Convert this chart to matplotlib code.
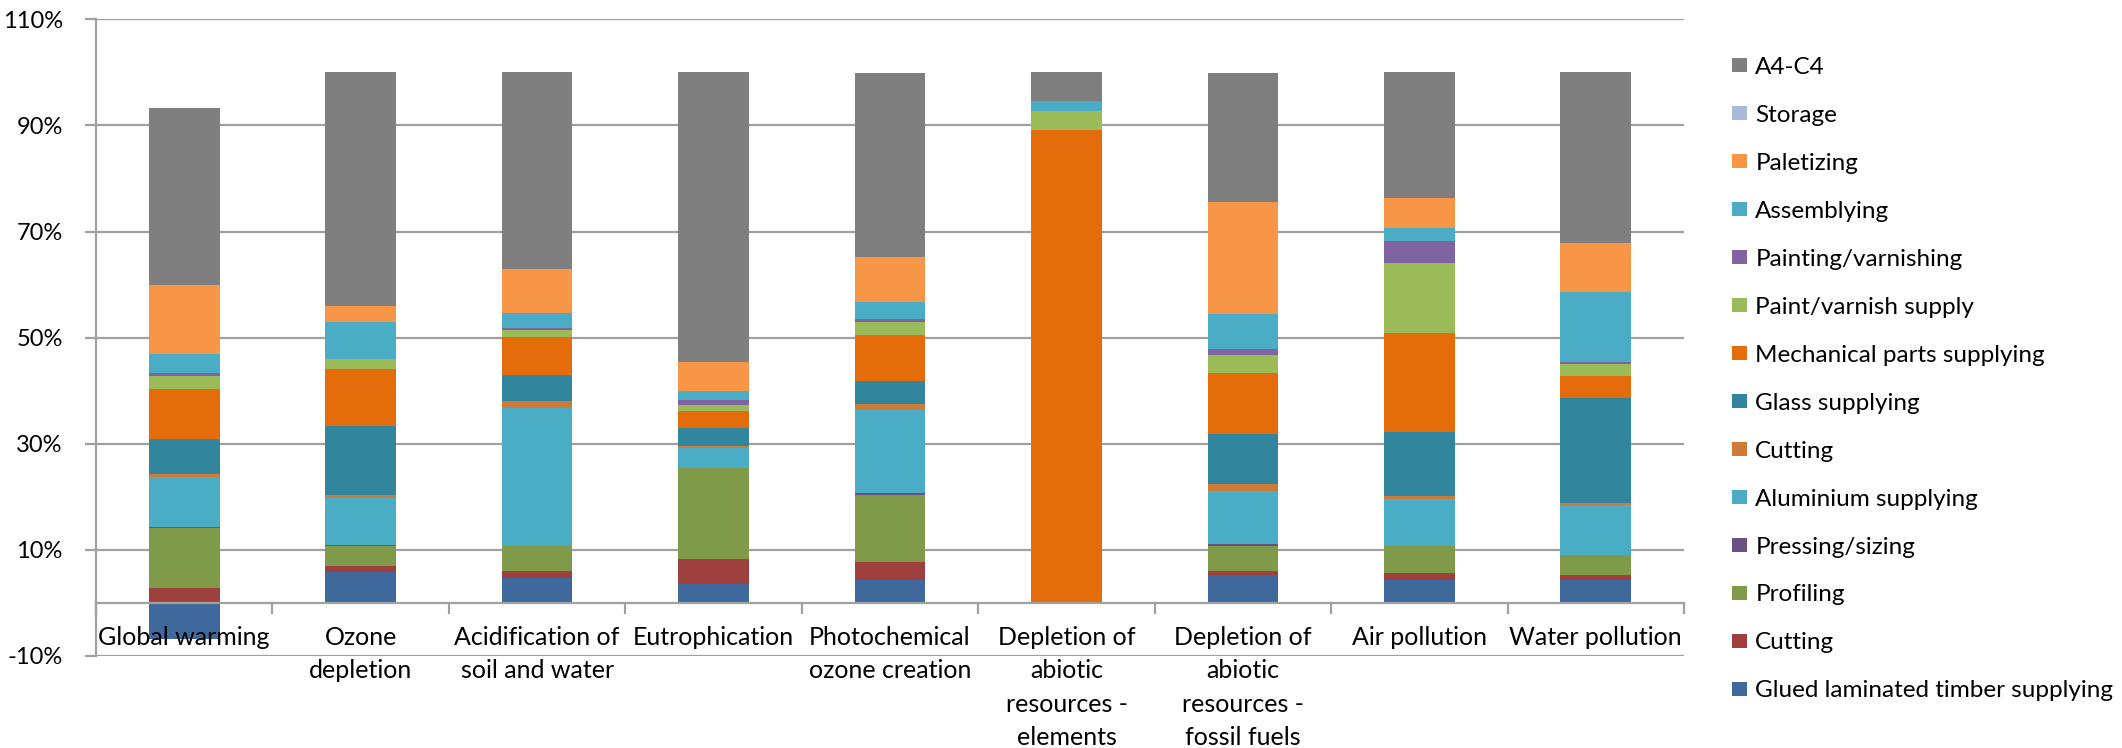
import matplotlib

matplotlib.use("Agg")
import matplotlib.pyplot as plt
import numpy as np
from matplotlib.patches import Patch

plt.rcParams["font.family"] = ["Lato", "DejaVu Sans"]

categories = [
    "Global warming",
    "Ozone\ndepletion",
    "Acidification of\nsoil and water",
    "Eutrophication",
    "Photochemical\nozone creation",
    "Depletion of\nabiotic\nresources -\nelements",
    "Depletion of\nabiotic\nresources -\nfossil fuels",
    "Air pollution",
    "Water pollution",
]

# stages from the bottom of each bar upwards, shares in %
glued_timber = [-6.8, 5.9, 4.7, 3.5, 4.4, 0.0, 5.2, 4.3, 4.4]
cutting_timber = [2.8, 1.0, 1.3, 4.8, 3.4, 0.0, 0.9, 1.3, 0.85]
profiling = [11.3, 3.8, 4.7, 17.1, 12.6, 0.0, 4.7, 5.1, 3.7]
pressing = [0.25, 0.15, 0.1, 0.1, 0.4, 0.0, 0.4, 0.1, 0.15]
aluminium = [9.3, 9.1, 26.0, 3.7, 15.8, 0.0, 9.9, 8.8, 9.3]
cutting_alu = [0.7, 0.35, 1.3, 0.4, 0.85, 0.0, 1.3, 0.6, 0.35]
glass = [6.6, 13.1, 4.8, 3.4, 4.3, 0.0, 9.5, 12.0, 19.9]
mechanical = [9.3, 10.6, 7.2, 3.2, 8.8, 89.1, 11.5, 18.7, 4.2]
paint_supply = [2.6, 1.9, 1.4, 1.2, 2.4, 3.7, 3.3, 13.1, 2.2]
painting = [0.5, 0.1, 0.25, 0.9, 0.5, 0.0, 1.2, 4.2, 0.4]
assembling = [3.6, 7.0, 2.95, 1.7, 3.2, 1.8, 6.5, 2.4, 13.2]
paletizing = [13.0, 3.0, 8.3, 5.4, 8.5, 0.0, 21.2, 5.7, 9.2]
storage = [0.0, 0.0, 0.0, 0.0, 0.0, 0.0, 0.0, 0.0, 0.0]
a4_c4 = [33.3, 44.0, 37.0, 54.7, 34.7, 5.4, 24.3, 23.8, 32.2]

series = [
    ("Glued laminated timber supplying", glued_timber, "#3F689C"),
    ("Cutting", cutting_timber, "#9E413E"),
    ("Profiling", profiling, "#7F9A48"),
    ("Pressing/sizing", pressing, "#695185"),
    ("Aluminium supplying", aluminium, "#4BACC6"),
    ("Cutting", cutting_alu, "#CC7B38"),
    ("Glass supplying", glass, "#31859C"),
    ("Mechanical parts supplying", mechanical, "#E46C0A"),
    ("Paint/varnish supply", paint_supply, "#9BBB59"),
    ("Painting/varnishing", painting, "#8064A2"),
    ("Assemblying", assembling, "#4BACC6"),
    ("Paletizing", paletizing, "#F79646"),
    ("Storage", storage, "#A9B9D9"),
    ("A4-C4", a4_c4, "#7F7F7F"),
]

W, H = 2122, 748
fig = plt.figure(figsize=(W / 100, H / 100), dpi=100)
ax = fig.add_axes([96 / W, 1 - 656 / H, (1684 - 96) / W, (656 - 19.3) / H])

x = np.arange(len(categories))
pos_base = np.zeros(len(categories))
neg_base = np.zeros(len(categories))
for name, vals, color in series:
    vals = np.asarray(vals, dtype=float)
    bottom = np.where(vals >= 0, pos_base, neg_base)
    ax.bar(x, vals, width=0.40, bottom=bottom, color=color, linewidth=0, zorder=3)
    pos_base += np.clip(vals, 0, None)
    neg_base += np.clip(vals, None, 0)

grid_color = "#A0A0A0"
ax.set_ylim(-10, 110)
ax.set_xlim(-0.5, len(categories) - 0.5)
ax.set_yticks(np.arange(-10, 111, 20))
ax.set_yticklabels([f"{v}%" for v in range(-10, 111, 20)], fontsize=17)
ax.yaxis.grid(True, color=grid_color, linewidth=1.6, zorder=0)
ax.tick_params(axis="y", direction="out", length=8, width=1.6, color=grid_color, pad=16)

# category axis sits on the 0% line, ticks between the groups
ax.spines["bottom"].set_position(("data", 0))
ax.spines["bottom"].set_color(grid_color)
ax.spines["bottom"].set_linewidth(1.6)
ax.spines["bottom"].set_zorder(4)
ax.set_xticks(np.arange(-0.5, len(categories), 1.0))
ax.set_xticklabels([])
ax.tick_params(axis="x", direction="out", length=8, width=1.6, color=grid_color)
ax.spines["left"].set_color(grid_color)
ax.spines["left"].set_linewidth(1.6)
for side in ["top", "right"]:
    ax.spines[side].set_visible(False)

for i, label in enumerate(categories):
    ax.text(i, -4.3, label, ha="center", va="top", fontsize=18,
            linespacing=1.55, zorder=5)

handles = [Patch(facecolor=c, edgecolor="none") for _, _, c in series][::-1]
labels = [n for n, _, _ in series][::-1]
fig.legend(
    handles,
    labels,
    loc="upper left",
    bbox_to_anchor=(1722 / W, 1 - 47 / H),
    frameon=False,
    fontsize=17.5,
    handlelength=0.62,
    handleheight=0.5,
    handletextpad=0.35,
    labelspacing=1.11,
    borderaxespad=0,
)

fig.savefig("out.png", dpi=100)
